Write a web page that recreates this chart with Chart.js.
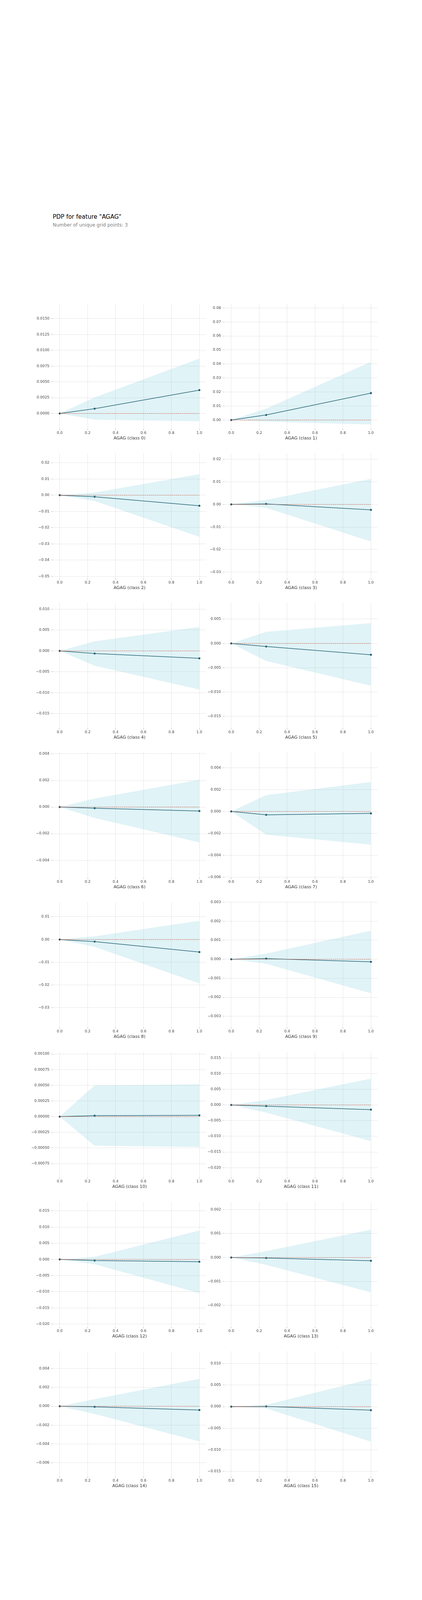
<!DOCTYPE html>
<html>
<head>
<meta charset="utf-8">
<script src="https://cdn.jsdelivr.net/npm/chart.js@4.4.1/dist/chart.umd.min.js"></script>
<style>
html, body { margin: 0; padding: 0; background: #ffffff; }
#page { position: relative; width: 1080px; height: 4320px; background: #ffffff; overflow: hidden; font-family: "DejaVu Sans", sans-serif; }
.title { position: absolute; left: 135px; top: 548px; font-size: 15px; line-height: 15px; color: #000000; white-space: nowrap; }
.subtitle { position: absolute; left: 135px; top: 570px; font-size: 12px; line-height: 12px; color: #808080; white-space: nowrap; }
canvas { position: absolute; }
</style>
</head>
<body>
<div id="page">
  <div class="title">PDP for feature "AGAG"</div>
  <div class="subtitle">Number of unique grid points: 3</div>
</div>
<script>
// ---- data ----
const featureName = 'AGAG';
const gridX = [0, 0.25, 1.0];
const classIds = [0, 1, 2, 3, 4, 5, 6, 7, 8, 9, 10, 11, 12, 13, 14, 15];

// PDP (centered) values per class at gridX
const pdpLine = [
  [0, 0.00076, 0.0037],
  [0, 0.0036, 0.0192],
  [0, -0.00097, -0.00653],
  [0, 0.00022, -0.00242],
  [0, -0.00063, -0.00178],
  [0, -0.00064, -0.00233],
  [0, -0.00009, -0.0003],
  [0, -0.00031, -0.00018],
  [0, -0.00093, -0.00551],
  [0, 0.000035, -0.000136],
  [0, 0.000016, 0.000021],
  [0, -0.00037, -0.0015],
  [0, -0.00036, -0.00072],
  [0, -0.00002, -0.000136],
  [0, -0.00006, -0.0004],
  [0, 0.00005, -0.00082]
];
// upper edge of std band
const pdpUpper = [
  [0, 0.00253, 0.00868],
  [0, 0.0081, 0.0415],
  [0, 0.0016, 0.0129],
  [0, 0.0020, 0.0113],
  [0, 0.0023, 0.00573],
  [0, 0.00238, 0.00416],
  [0, 0.00064, 0.00205],
  [0, 0.00149, 0.00269],
  [0, 0.00138, 0.0082],
  [0, 0.000296, 0.0015],
  [0, 0.000498, 0.000514],
  [0, 0.00157, 0.00842],
  [0, 0.0008, 0.0089],
  [0, 0.000266, 0.001164],
  [0, 0.00076, 0.00291],
  [0, 0.00042, 0.0064]
];
// lower edge of std band
const pdpLower = [
  [0, -0.00099, -0.00122],
  [0, -0.0011, -0.00317],
  [0, -0.00355, -0.0257],
  [0, -0.0015, -0.0164],
  [0, -0.00355, -0.00923],
  [0, -0.00361, -0.00871],
  [0, -0.00082, -0.00266],
  [0, -0.00212, -0.00303],
  [0, -0.00322, -0.01929],
  [0, -0.00024, -0.00179],
  [0, -0.000463, -0.000484],
  [0, -0.00245, -0.01155],
  [0, -0.0015, -0.01043],
  [0, -0.000305, -0.00145],
  [0, -0.00082, -0.00373],
  [0, -0.00043, -0.0081]
];
// y tick spacing and label decimals per class
const yTickStep = [0.0025, 0.01, 0.01, 0.01, 0.005, 0.005, 0.002, 0.002, 0.01, 0.001, 0.00025, 0.005, 0.005, 0.001, 0.002, 0.005];
const yTickDecimals = [4, 2, 2, 2, 3, 3, 3, 3, 2, 3, 5, 3, 3, 3, 3, 3];
// x ticks
const xTickStep = 0.2;
const xTickDecimals = 1;

// ---- drawing ----
Chart.defaults.font.family = '"DejaVu Sans", sans-serif';

const page = document.getElementById('page');
const CANVAS_W = 498, PAD_T = 10, AREA_H = 321, X_H = 44, Y_W = 100;
const CANVAS_H = PAD_T + AREA_H + X_H;
const FIRST_TOP = 776.5, ROW_STEP = 383.2;
const GRID_COLOR = 'rgba(0,0,0,0.3)';
const TICK_FONT = { family: '"DejaVu Sans", sans-serif', size: 9.3 };

function fmt(v, d) {
  let s = (Math.abs(v) < 1e-12 ? 0 : v).toFixed(d);
  return s.replace('-', '\u2212');
}

function makePanel(i) {
  const col = i % 2, row = Math.floor(i / 2);
  const canvas = document.createElement('canvas');
  canvas.width = CANVAS_W;
  canvas.height = CANVAS_H;
  canvas.style.width = CANVAS_W + 'px';
  canvas.style.height = CANVAS_H + 'px';
  canvas.style.left = (col ? 474 : 35) + 'px';
  canvas.style.top = (Math.round(FIRST_TOP + ROW_STEP * row) - PAD_T) + 'px';
  page.appendChild(canvas);

  const pts = arr => gridX.map((x, j) => ({ x: x, y: arr[j] }));
  const zeros = gridX.map(() => 0);
  const yMin = Math.min(0, 2 * Math.min(...pdpLower[i]));
  const yMax = Math.max(0, 2 * Math.max(...pdpUpper[i]));

  new Chart(canvas, {
    type: 'line',
    data: {
      datasets: [
        { data: pts(pdpUpper[i]), fill: '+1', backgroundColor: 'rgba(102,194,215,0.2)',
          borderColor: 'rgba(0,0,0,0)', borderWidth: 0, pointRadius: 0, tension: 0 },
        { data: pts(pdpLower[i]), fill: false, borderColor: 'rgba(0,0,0,0)', borderWidth: 0,
          pointRadius: 0, tension: 0 },
        { data: pts(zeros), fill: false, borderColor: '#E75438', borderWidth: 1,
          borderDash: [3.7, 1.6], pointRadius: 0, tension: 0 },
        { data: pts(pdpLine[i]), fill: false, borderColor: '#1A4E5D', borderWidth: 1.5,
          pointRadius: 2.2, pointBackgroundColor: '#1A4E5D', pointBorderColor: '#1A4E5D',
          pointBorderWidth: 1, tension: 0 }
      ]
    },
    options: {
      responsive: false,
      animation: false,
      events: [],
      layout: { padding: { top: PAD_T, left: 0, right: 0, bottom: 0 } },
      plugins: { legend: { display: false }, tooltip: { enabled: false }, title: { display: false } },
      scales: {
        x: {
          type: 'linear', min: -0.05, max: 1.05,
          afterFit: s => { s.height = X_H; },
          ticks: { stepSize: xTickStep, autoSkip: false, includeBounds: false, maxRotation: 0,
                   padding: 1.2, color: '#424242', font: TICK_FONT,
                   callback: v => fmt(v, xTickDecimals) },
          grid: { color: GRID_COLOR, lineWidth: 0.5, drawTicks: true, tickLength: 3.5,
                  tickColor: '#9E9E9E', tickWidth: 0.8, tickBorderDash: [] },
          border: { display: false, dash: [2, 1] },
          title: { display: true, text: featureName + ' (class ' + classIds[i] + ')',
                   color: '#333333', font: { family: '"DejaVu Sans", sans-serif', size: 11 },
                   padding: { top: 0, bottom: 13 } }
        },
        y: {
          type: 'linear', min: yMin, max: yMax,
          afterFit: s => { s.width = Y_W; },
          ticks: { stepSize: yTickStep[i], autoSkip: false, includeBounds: false,
                   padding: 5, color: '#424242', font: TICK_FONT,
                   callback: v => fmt(v, yTickDecimals[i]) },
          grid: { color: GRID_COLOR, lineWidth: 0.5, drawTicks: true, tickLength: 3.5,
                  tickColor: '#9E9E9E', tickWidth: 0.8, tickBorderDash: [] },
          border: { display: false, dash: [2, 1] }
        }
      }
    }
  });
}

classIds.forEach((c, i) => makePanel(i));
</script>
</body>
</html>
